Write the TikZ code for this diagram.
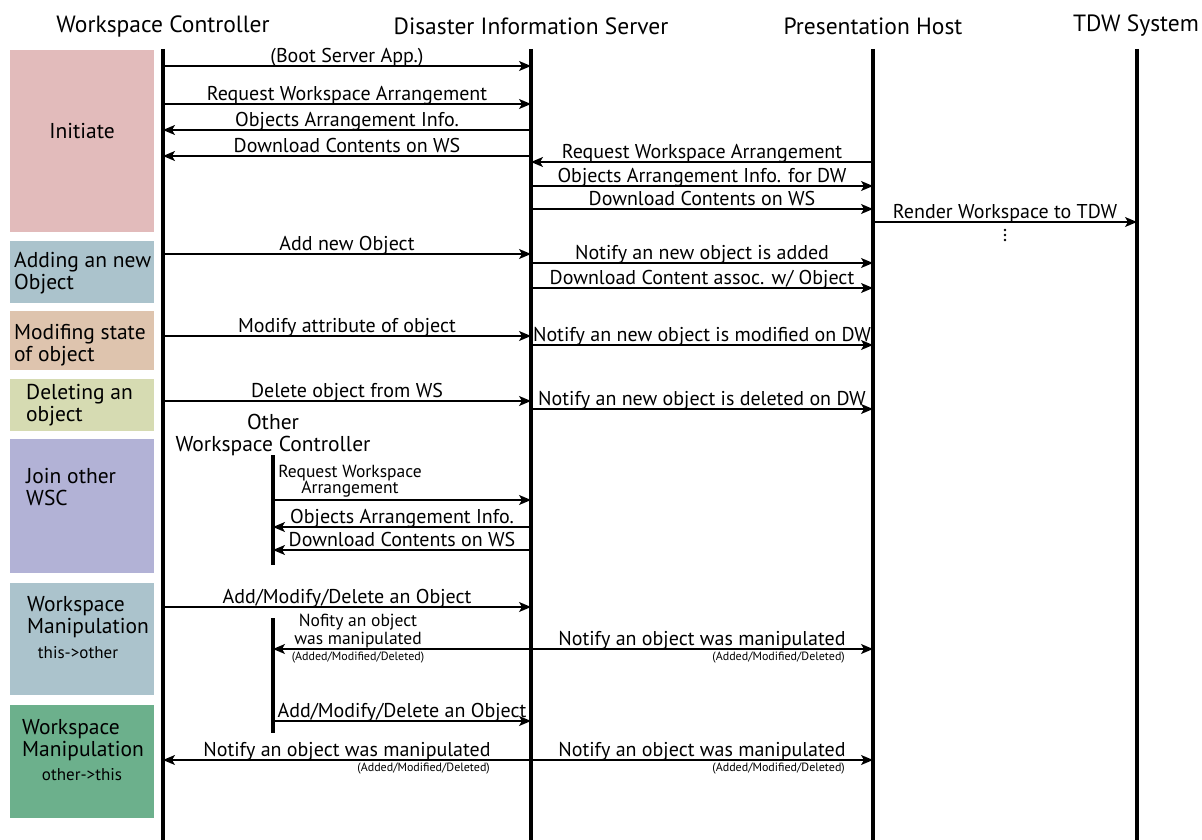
\documentclass[tikz,border=0pt]{standalone}
\usepackage{fontspec}
\setmainfont{PT Sans}
\usepackage{tikz}
\usetikzlibrary{arrows.meta}
\definecolor{initpink}{RGB}{226,187,187}
\definecolor{addblue}{RGB}{171,195,204}
\definecolor{modtan}{RGB}{222,196,174}
\definecolor{delgreen}{RGB}{214,219,178}
\definecolor{joinviolet}{RGB}{178,178,214}
\definecolor{manipblue}{RGB}{171,195,204}
\definecolor{manipgreen}{RGB}{108,176,140}

\begin{document}
\begin{tikzpicture}[x=1pt, y=-1pt,
  lifeline/.style={line width=4pt},
  msg/.style={line width=1.3pt, -{Stealth[length=12pt, width=10pt, inset=3pt]}},
  lbl/.style={font=\fontsize{20}{20}\selectfont, inner sep=1pt, text height=.72em, text depth=.22em},
  twoline/.style={font=\fontsize{17.5}{16}\selectfont, inner sep=0pt, align=center},
  head/.style={font=\fontsize{23.5}{25}\selectfont},
  phase/.style={font=\fontsize{21.5}{22}\selectfont, align=left, anchor=north west, inner sep=0pt},
  dir/.style={font=\fontsize{17}{17}\selectfont, inner sep=0pt},
  small/.style={font=\fontsize{12}{12}\selectfont, inner sep=0pt}]
\useasboundingbox (0,0) rectangle (1202,840);
\fill[initpink] (10,50) rectangle (154,232);
\fill[addblue] (10,241) rectangle (154,303);
\fill[modtan] (10,311) rectangle (154,370);
\fill[delgreen] (10,379) rectangle (154,431);
\fill[joinviolet] (10,439) rectangle (154,573);
\fill[manipblue] (10,583) rectangle (154,695);
\fill[manipgreen] (10,705) rectangle (154,818);
\node[phase, anchor=center] (pinit) at (82,131) {Initiate};
\node[phase] (padd) at (14,252) {Adding an new\\Object};
\node[phase] (pmod) at (14,324) {Modifing state\\of object};
\node[phase] (pdel) at (26,384) {Deleting an\\object};
\node[phase] (pjoin) at (26,468) {Join other\\WSC};
\node[phase] (pman1) at (27,596) {Workspace\\Manipulation};
\node[dir] (pdir1) at (78,653) {this->other};
\node[phase] (pman2) at (22,719) {Workspace\\Manipulation};
\node[dir] (pdir2) at (82,775) {other->this};
\node[head] (hwc) at (163,26) {Workspace Controller};
\node[head] (hdis) at (531,26) {Disaster Information Server};
\node[head] (hph) at (873,26) {Presentation Host};
\node[head] (htdw) at (1136,26) {TDW System};
\coordinate (wc) at (163,49);
\coordinate (dis) at (531,49);
\coordinate (ph) at (873,49);
\coordinate (tdw) at (1137,49);
\coordinate (owc) at (273,455);
\coordinate (owcb) at (273,618);
\draw[lifeline] (wc) -- (wc |- 0,840);
\draw[lifeline] (dis) -- (dis |- 0,840);
\draw[lifeline] (ph) -- (ph |- 0,840);
\draw[lifeline] (tdw) -- (tdw |- 0,840);
\draw[lifeline] (owc) -- (owc |- 0,565);
\draw[lifeline] (owcb) -- (owcb |- 0,733);
\node[head, font=\fontsize{21.5}{22}\selectfont, align=center, inner sep=0pt] (howc) at (273,435) {Other\\Workspace Controller};
\draw[msg] (wc |- 0,66) -- (dis |- 0,66) node[lbl, midway, above] (m1) {(Boot Server App.)};
\draw[msg] (wc |- 0,104) -- (dis |- 0,104) node[lbl, midway, above] (m2) {Request Workspace Arrangement};
\draw[msg] (dis |- 0,130) -- (wc |- 0,130) node[lbl, midway, above] (m3) {Objects Arrangement Info.};
\draw[msg] (dis |- 0,156) -- (wc |- 0,156) node[lbl, midway, above] (m4) {Download Contents on WS};
\draw[msg] (ph |- 0,162) -- (dis |- 0,162) node[lbl, midway, above] (m5) {Request Workspace Arrangement};
\draw[msg] (dis |- 0,186) -- (ph |- 0,186) node[lbl, midway, above] (m6) {Objects Arrangement Info. for DW};
\draw[msg] (dis |- 0,209) -- (ph |- 0,209) node[lbl, midway, above] (m7) {Download Contents on WS};
\draw[msg] (ph |- 0,222) -- (tdw |- 0,222) node[lbl, midway, above] (m8) {Render Workspace to TDW};
\fill (1005,230) circle (1.3pt) (1005,235) circle (1.3pt) (1005,240) circle (1.3pt);
\draw[msg] (wc |- 0,254) -- (dis |- 0,254) node[lbl, midway, above] (m9) {Add new Object};
\draw[msg] (dis |- 0,263) -- (ph |- 0,263) node[lbl, midway, above] (m10) {Notify an new object is added};
\draw[msg] (dis |- 0,288) -- (ph |- 0,288) node[lbl, midway, above] (m11) {Download Content assoc. w/ Object};
\draw[msg] (wc |- 0,336) -- (dis |- 0,336) node[lbl, midway, above] (m12) {Modify attribute of object};
\draw[msg] (dis |- 0,345) -- (ph |- 0,345) node[lbl, midway, above] (m13) {Notify an new object is modified on DW};
\draw[msg] (wc |- 0,401) -- (dis |- 0,401) node[lbl, midway, above] (m14) {Delete object from WS};
\draw[msg] (dis |- 0,409) -- (ph |- 0,409) node[lbl, midway, above] (m15) {Notify an new object is deleted on DW};
\draw[msg] (owc |- 0,500) -- (dis |- 0,500);
\node[twoline] (m16) at (350,481) {Request Workspace\\Arrangement};
\draw[msg] (dis |- 0,527) -- (owc |- 0,527) node[lbl, midway, above] (m17) {Objects Arrangement Info.};
\draw[msg] (dis |- 0,550) -- (owc |- 0,550) node[lbl, midway, above] (m18) {Download Contents on WS};
\draw[msg] (wc |- 0,607) -- (dis |- 0,607) node[lbl, midway, above] (m19) {Add/Modify/Delete an Object};
\draw[msg] (dis |- 0,649) -- (owcb |- 0,649);
\node[twoline] (m20) at (358,631) {Nofity an object\\was manipulated};
\node[small, anchor=north] (m20s) at (358,652) {(Added/Modified/Deleted)};
\draw[msg] (dis |- 0,649) -- (ph |- 0,649) node[lbl, midway, above] (m21) {Notify an object was manipulated};
\node[small, anchor=north east] (m21s) at (845,652) {(Added/Modified/Deleted)};
\draw[msg] (owcb |- 0,721) -- (dis |- 0,721) node[lbl, midway, above] (m22) {Add/Modify/Delete an Object};
\draw[msg] (dis |- 0,760) -- (wc |- 0,760) node[lbl, midway, above] (m23) {Notify an object was manipulated};
\node[small, anchor=north east] (m23s) at (490,763) {(Added/Modified/Deleted)};
\draw[msg] (dis |- 0,760) -- (ph |- 0,760) node[lbl, midway, above] (m24) {Notify an object was manipulated};
\node[small, anchor=north east] (m24s) at (845,763) {(Added/Modified/Deleted)};
\end{tikzpicture}
\end{document}
